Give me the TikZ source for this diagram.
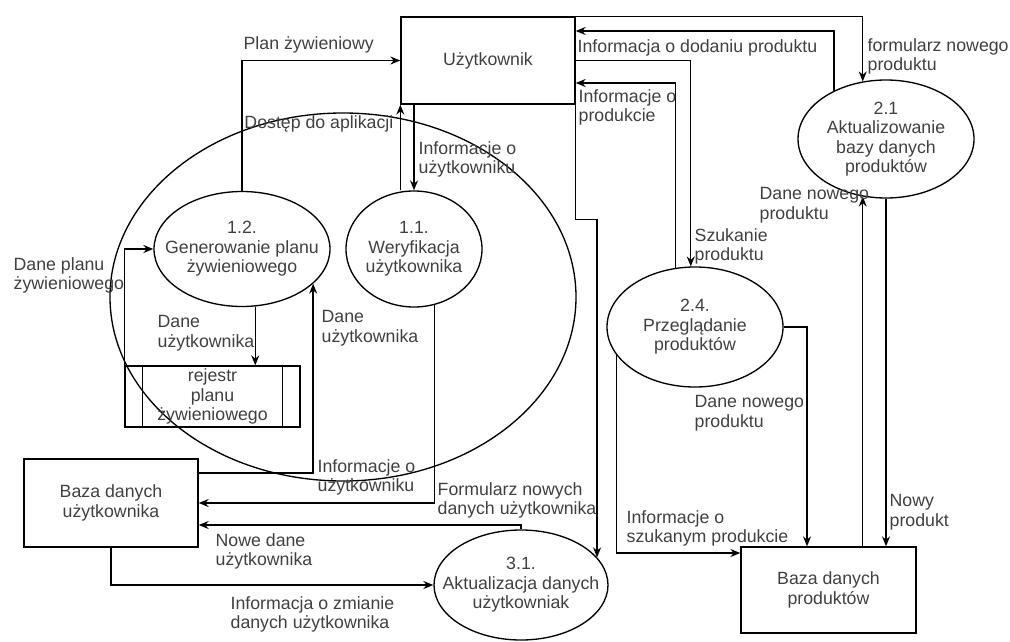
\documentclass[tikz,border=0pt]{standalone}
\usepackage{fontspec}
\setmainfont{Liberation Sans}
\usetikzlibrary{shapes.geometric,arrows.meta,calc}

\newcommand{\lblfont}{\fontsize{13.3pt}{14.6pt}\selectfont}
\tikzset{every picture/.style={line width=1pt}}
\tikzset{
entity/.style={draw, rectangle, inner sep=0pt, align=center, text=black!75, font=\lblfont},
proc/.style={draw, ellipse, inner sep=0pt},
proctext/.style={align=center, inner sep=0.75pt, text=black!75, font=\lblfont},
flowlabel/.style={anchor=north west, align=left, inner sep=0.75pt, text=black!75, font=\lblfont},
flow/.style={draw, -{Stealth[length=7.5pt,width=6pt,inset=2.5pt]}}}

\begin{document}
\begin{tikzpicture}[x=0.75pt,y=0.75pt,yscale=-1,xscale=1]
\useasboundingbox (0,0) rectangle (1010,642);

%Shape: Ellipse (boundary of the user part)
\draw (343,297) ellipse [x radius=233, y radius=184];

%Shape: Rectangle
\node [entity, minimum width=130.5pt, minimum height=65.25pt] (user) at (488,60.5) {Użytkownik};
\node [entity, minimum width=130.5pt, minimum height=66pt] (dbu) at (111,503) {Baza danych\\użytkownika};
\node [entity, minimum width=131.25pt, minimum height=64.5pt] (dbp) at (828.5,590) {Baza danych\\produktów};
%Shape: Rectangle with side bars
\node [entity, minimum width=131.25pt, minimum height=45.75pt] (reg) at (212.5,396.5) {rejestr\\planu\\żywieniowego};
\draw ($(reg.north west)+(18,0)$) -- ($(reg.south west)+(18,0)$);
\draw ($(reg.north east)+(-18,0)$) -- ($(reg.south east)+(-18,0)$);

%Shape: Ellipse
\node [proc, minimum width=132pt, minimum height=86.25pt] (e12) at (242,249) {};
\node [proctext] (t12) at (e12) {1.2.\\Generowanie planu\\żywieniowego};
\node [proc, minimum width=102pt, minimum height=87pt] (e11) at (414,249) {};
\node [proctext] (t11) at (e11) {1.1.\\Weryfikacja\\użytkownika};
\node [proc, minimum width=130.5pt, minimum height=82.5pt] (e31) at (521,585) {};
\node [proctext] (t31) at (e31) {3.1.\\Aktualizacja danych\\użytkowniak};
\node [proc, minimum width=132pt, minimum height=90pt] (e24) at (695,327) {};
\node [proctext] (t24) at (e24) {2.4.\\Przeglądanie\\produktów};
\node [proc, minimum width=132pt, minimum height=88.5pt] (e21) at (886,139) {};
\node [proctext] (t21) at (e21) {2.1\\Aktualizowanie\\bazy danych\\produktów};

% Connectors
\draw [flow] (e12.north) |- (user.west);
\draw [flow] (e11.north -| user.south west) -- (user.south west);
\draw [flow] (user.south -| e11.north) -- (e11.north);
\draw [flow] (reg.north west) |- (e12.west);
\draw [flow] (e12.-77) -- (e12.-77 |- reg.north);
\draw [flow] ($(dbu.east)+(0,-30)$) -| (e12.-26);
\draw [flow] (e11.-70) |- (dbu.east);
\draw [flow] (e31.north) |- ($(dbu.east)+(0,22)$);
\draw [flow] (dbu.south) |- (e31.west);
\draw [flow] (user.south east) -- ++(0,115) -| (e31.20);
\draw [flow] (user.east) -| (e24.94);
\draw [flow] (e24.108) |- ($(user.east)+(0,22.5)$);
\draw [flow] (e21.137) |- ($(user.east)+(0,-29.5)$);
\draw [flow] (user.north) -| (e21.112);
\draw [flow] (e21.south) -- (e21.south |- dbp.north);
\draw [flow] (dbp.north -| e21.-112) -- (e21.-112);
\draw [flow] (e24.east) -| ($(dbp.north)+(-21.5,0)$);
\draw [flow] (e24.-160) |- ($(dbp.west)+(0,-37)$);

% Text Node
\node [flowlabel] (lplan) at (242,35) {Plan żywieniowy};
\node [flowlabel] (ldodan) at (576,38) {Informacja o dodaniu produktu};
\node [flowlabel] (lform) at (866,37) {formularz nowego\\produktu};
\node [flowlabel] (lprodk) at (577,88) {Informacje o\\produkcie};
\node [flowlabel, anchor=north east] (ldost) at (395,114) {Dostęp do aplikacji};
\node [flowlabel] (linfo1) at (417,140) {Informacje o\\użytkowniku};
\node [flowlabel] (lplanz) at (12,256) {Dane planu\\żywieniowego};
\node [flowlabel] (ldane1) at (156,314) {Dane\\użytkownika};
\node [flowlabel] (ldane2) at (320,309) {Dane\\użytkownika};
\node [flowlabel] (linfo2) at (316,458) {Informacje o\\użytkowniku};
\node [flowlabel] (lformu) at (436,481) {Formularz nowych\\danych użytkownika};
\node [flowlabel] (lnowe) at (214,532) {Nowe dane\\użytkownika};
\node [flowlabel] (lzmian) at (229,595) {Informacja o zmianie\\danych użytkownika};
\node [flowlabel] (lszuk) at (693,227) {Szukanie\\produktu};
\node [flowlabel] (ldnp1) at (758,186) {Dane nowego\\produktu};
\node [flowlabel] (ldnp2) at (693,394) {Dane nowego\\produktu};
\node [flowlabel] (lszuk2) at (625,509) {Informacje o\\szukanym produkcie};
\node [flowlabel] (lnowy) at (888,493) {Nowy\\produkt};

\end{tikzpicture}
\end{document}
